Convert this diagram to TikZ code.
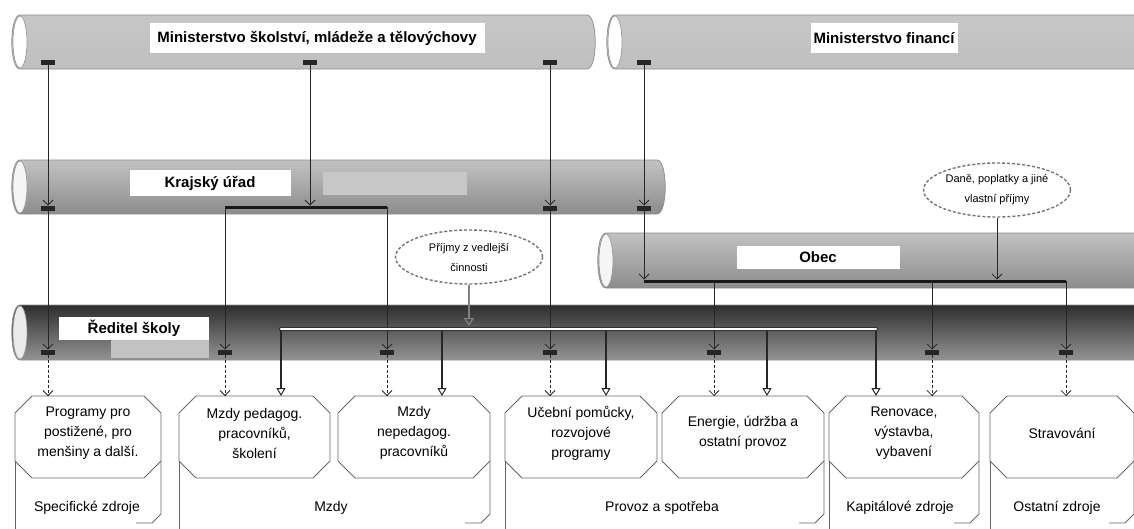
\documentclass[tikz,border=0pt]{standalone}
\usepackage{fontspec}
\setmainfont{Liberation Sans}
\usetikzlibrary{arrows.meta,calc,shapes.geometric}

\newcommand{\tube}[6]{%
	\shadedraw[#5, draw=black!45, line width=0.7pt] (#1,#3) -- (#2,#3)
		.. controls (#2+11,#3) and (#2+11,#4) .. (#2,#4) -- (#1,#4)
		.. controls (#1-11,#4) and (#1-11,#3) .. (#1,#3) -- cycle;
	\filldraw[fill=#6, draw=black!40, line width=0.7pt] (#1,{(#3+#4)/2}) ellipse [x radius=7, y radius={(#4-#3)/2-1}];
}
\newcommand{\octo}[1]{%
	\filldraw[cell] ($(#1.north west)+(17,0)$) -- ($(#1.north east)+(-17,0)$) -- ($(#1.north east)+(0,17)$) -- ($(#1.south east)+(0,-17)$) -- ($(#1.south east)+(-17,0)$) -- ($(#1.south west)+(17,0)$) -- ($(#1.south west)+(0,-17)$) -- ($(#1.north west)+(0,17)$) -- cycle;
}

\begin{document}
\begin{tikzpicture}[x=1pt, y=-1pt,
		every node/.style={font=\fontsize{14}{20}\selectfont},
		pipename/.style={fill=white, inner sep=0, font=\bfseries\fontsize{15}{17}\selectfont},
		tag/.style={fill=black!85, minimum width=14, minimum height=5, inner sep=0, outer sep=0},
		flow/.style={draw=black!85, line width=0.8pt, -{Straight Barb[length=5pt, width=10pt]}},
		dflow/.style={flow, dash pattern=on 3pt off 2pt},
		drop/.style={draw=black!85, line width=1.2pt, -{Triangle[open, length=8pt, width=9pt, line width=1pt]}},
		gflow/.style={draw=black!50, line width=2.5pt, shorten >=3pt, -{Triangle[open, length=8pt, width=10pt, line width=1.2pt]}},
		bar/.style={draw=black!90, line width=3pt},
		whitebar/.style={draw=black!80, line width=1pt, double=white, double distance=2.5pt, line cap=round},
		bubble/.style={ellipse, draw=black!55, fill=white, line width=1.4pt, dash pattern=on 3pt off 2pt, minimum width=147, minimum height=54, inner sep=0, align=center, font=\fontsize{11}{20}\selectfont},
		slot/.style={minimum height=82, inner sep=0, outer sep=0},
		cell/.style={draw=black!60, fill=white, line width=0.8pt},
		rim/.style={draw=black!60, line width=0.8pt},
		item/.style={align=center}
	]
	\useasboundingbox (0,0) rectangle (1134,528);

	\tube{20}{587}{15}{69}{top color=black!22, middle color=white, bottom color=black!25}{white}
	\tube{615}{1160}{15}{69}{top color=black!22, middle color=white, bottom color=black!25}{white}
	\tube{20}{657}{160}{214}{top color=black!24, middle color=black!30, bottom color=black!45}{black!4}
	\tube{606}{1160}{233}{288}{top color=black!24, middle color=black!30, bottom color=black!45}{black!4}
	\tube{20}{1160}{305}{360}{top color=black!82, middle color=black!36, bottom color=black!42}{black!8}

	\node[pipename, minimum width=335, minimum height=30] (msmt) at (317,38) {Ministerstvo školství, mládeže a tělovýchovy};
	\node[pipename, minimum width=147, minimum height=30] (mf) at (884,38) {Ministerstvo financí};
	\node[pipename, minimum width=161, minimum height=26] (kraj) at (210,183) {Krajský úřad};
	\fill[black!22] (323,172) rectangle (467,195);
	\node[pipename, minimum width=163, minimum height=23] (obec) at (818,257) {Obec};
	\node[pipename, minimum width=150, minimum height=23] (reditel) at (134,328) {Ředitel školy};
	\fill[black!24] (111,340) rectangle (209,358);

	\node[bubble] (vedl) at (469,257) {Příjmy z vedlejší\\činnosti};
	\node[bubble] (dane) at (997,190) {Daně, poplatky a jiné\\vlastní příjmy};

	\node[slot, minimum width=146] (b1) at (88,437) {};
	\node[slot, minimum width=151] (b2) at (254.5,437) {};
	\node[slot, minimum width=152] (b3) at (414,437) {};
	\node[slot, minimum width=152] (b4) at (581,437) {};
	\node[slot, minimum width=162] (b5) at (743,437) {};
	\node[slot, minimum width=150] (b6) at (904,437) {};
	\node[slot, minimum width=144] (b7) at (1062,437) {};
	\foreach \b in {b1,b2,b4,b6,b7}
		\draw[rim] ($(\b.south west)+(0,-17)$) -- ++(0,72);
	\foreach \b in {b1,b3,b5,b6,b7}
		\draw[rim] ($(\b.south east)+(0,-17)$) -- ++(0,53) -- ++(-9,9) -- ++(-16,0);
	\foreach \b in {b1,b2,b3,b4,b5,b6,b7}
		{\octo{\b}}

	\node[item] (t1) at ([yshift=4pt]b1.center) {Programy pro\\postižené, pro\\menšiny a další.};
	\node[item] (t2) at ([yshift=4pt]b2.center) {Mzdy pedagog.\\pracovníků,\\školení};
	\node[item] (t3) at ([yshift=4pt]b3.center) {Mzdy\\nepedagog.\\pracovníků};
	\node[item] (t4) at ([yshift=4pt]b4.center) {Učební pomůcky,\\rozvojové\\programy};
	\node[item] (t5) at ([yshift=4pt]b5.center) {Energie, údržba a\\ostatní provoz};
	\node[item] (t6) at ([yshift=4pt]b6.center) {Renovace,\\výstavba,\\vybavení};
	\node[item] (t7) at ([yshift=4pt]b7.center) {Stravování};

	\node (g1) at (87,508) {Specifické zdroje};
	\node (g2) at (331,508) {Mzdy};
	\node (g3) at (662,508) {Provoz a spotřeba};
	\node (g4) at (900,508) {Kapitálové zdroje};
	\node (g5) at (1057,508) {Ostatní zdroje};

	\node[tag] (m1) at (48,62) {};
	\node[tag] (m2) at (310,62) {};
	\node[tag] (m3) at (550,62) {};
	\node[tag] (m4) at (644,62) {};
	\node[tag] (k1) at (48,208) {};
	\node[tag] (k3) at (550,208) {};
	\node[tag] (k4) at (644,208) {};
	\foreach \x [count=\i] in {48,225,387,550,714,932,1066}
		\node[tag] (r\i) at (\x,352) {};

	\coordinate (kl) at (225,207);
	\coordinate (kr) at (387,207);
	\coordinate (ol) at (644,281);
	\coordinate (or) at (1066,281);
	\foreach \x [count=\i] in {281,442,606,767,876}
		\coordinate (w\i) at (\x,329);

	\draw[flow] (m1.south) -- (k1.north);
	\draw[flow, shorten >=1.5pt] (m2.south) -- (m2.south |- kl);
	\draw[flow] (m3.south) -- (k3.north);
	\draw[flow] (m4.south) -- (k4.north);
	\draw[flow] (k1.south) -- (r1.north);
	\draw[flow] (k3.south) -- (r4.north);
	\draw[flow, shorten >=1.5pt] (k4.south) -- (ol);
	\draw[flow, shorten >=1.5pt] (dane.south) -- (dane.south |- ol);
	\draw[bar] (kl) -- (kr);
	\draw[bar] (ol) -- (or);
	\draw[flow] (kl) -- (r2.north);
	\draw[flow] (kr) -- (r3.north);
	\draw[flow] (r5.north |- ol) -- (r5.north);
	\draw[flow] (r6.north |- ol) -- (r6.north);
	\draw[flow] (or) -- (r7.north);
	\foreach \i in {1,...,5}
		\draw[drop] (w\i) -- (w\i |- b1.north);
	\draw[gflow] (vedl.south) -- (vedl.south |- w1);
	\draw[whitebar] (w1) -- (w5);
	\foreach \i in {1,...,7}
		\draw[dflow] (r\i.south) -- (r\i.south |- b1.north);
\end{tikzpicture}
\end{document}
